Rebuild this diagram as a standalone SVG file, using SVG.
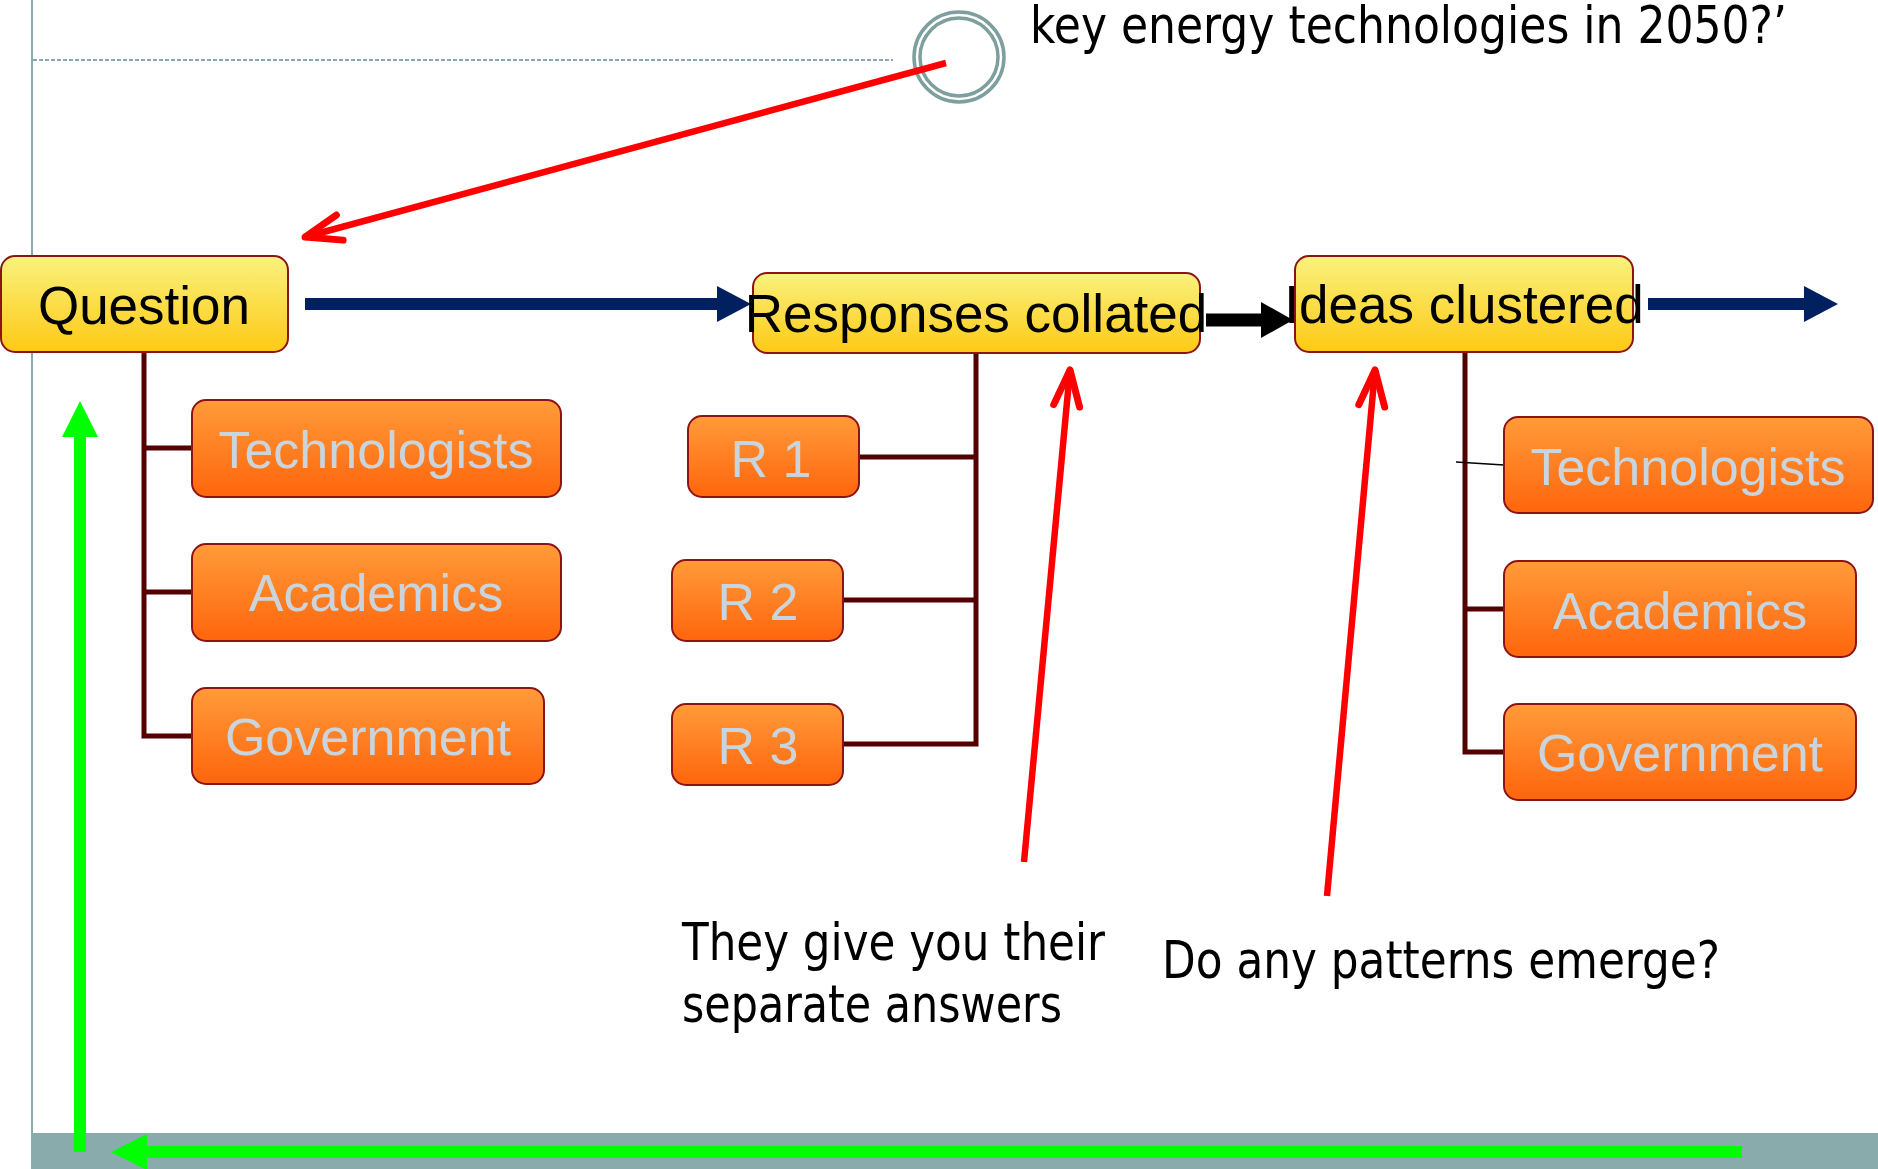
<svg xmlns="http://www.w3.org/2000/svg" width="1878" height="1169" viewBox="0 0 1878 1169">
<defs>
<linearGradient id="gY" x1="0" y1="0" x2="0" y2="1"><stop offset="0" stop-color="#f9f27e"/><stop offset="1" stop-color="#fec914"/></linearGradient>
<linearGradient id="gO" x1="0" y1="0" x2="0" y2="1"><stop offset="0" stop-color="#ff9b3a"/><stop offset="1" stop-color="#ff650c"/></linearGradient>
<marker id="navyHead" markerUnits="userSpaceOnUse" markerWidth="36" markerHeight="40" viewBox="0 -20 36 40" refX="0" refY="0" orient="auto"><path d="M0,-18 L34,0 L0,18 Z" fill="#00205f"/></marker>
<marker id="blackHead" markerUnits="userSpaceOnUse" markerWidth="36" markerHeight="40" viewBox="0 -20 36 40" refX="0" refY="0" orient="auto"><path d="M0,-18 L32,0 L0,18 Z" fill="#000"/></marker>
<marker id="greenHead" markerUnits="userSpaceOnUse" markerWidth="38" markerHeight="40" viewBox="0 -20 38 40" refX="0" refY="0" orient="auto"><path d="M0,-18 L36,0 L0,18 Z" fill="#00ff00"/></marker>
<marker id="redHead" markerUnits="userSpaceOnUse" markerWidth="50" markerHeight="40" viewBox="-44 -20 50 40" refX="0" refY="0" orient="auto"><path d="M-36,-13 L0,0 L-36,13" fill="none" stroke="#ff0000" stroke-width="7" stroke-linecap="round" stroke-linejoin="round"/></marker>
</defs>
<style>
.yb{fill:url(#gY);stroke:#8b1515;stroke-width:2}
.ob{fill:url(#gO);stroke:#8b1515;stroke-width:2}
.yt{font-family:"Liberation Sans",Arial,sans-serif;font-size:53px;fill:#000;text-anchor:middle}
.ot{font-family:"Liberation Sans",Arial,sans-serif;font-size:52px;fill:#c9d4dc;text-anchor:middle}
.nt{font-family:"Liberation Sans Narrow","DejaVu Sans Condensed","Liberation Sans",sans-serif;font-size:52px;fill:#000}
.tree{fill:none;stroke:#550000;stroke-width:5}
.red{stroke:#ff0000;stroke-width:6.5;fill:none;marker-end:url(#redHead)}
</style>
<rect width="1878" height="1169" fill="#ffffff"/>
<g id="frame">
<line x1="32" y1="0" x2="32" y2="1134" stroke="#8aabab" stroke-width="2"/>
<line x1="33" y1="60" x2="893" y2="60" stroke="#8aabab" stroke-width="2" stroke-dasharray="4,2"/>
<rect x="31" y="1133" width="1847" height="36" fill="#8aabab"/>
<circle cx="959" cy="57" r="45" fill="none" stroke="#7f9f9f" stroke-width="3.5"/>
<circle cx="959" cy="57" r="39" fill="none" stroke="#7f9f9f" stroke-width="3.5"/>
</g>
<text class="nt" x="1030" y="43" font-size="49" textLength="757" lengthAdjust="spacingAndGlyphs">key energy technologies in 2050?’</text>
<g id="connectors">
<path class="tree" d="M144,352 V736 H192 M144,448 H192 M144,592 H192"/>
<path class="tree" d="M976,353 V744 H843 M976,457 H859 M976,600 H843" stroke-width="4.5"/>
<path class="tree" d="M1465,352 V752 H1504 M1465,609 H1504"/>
<line x1="1456" y1="462" x2="1504" y2="465" stroke="#000" stroke-width="1.5"/>
<line x1="305" y1="304" x2="717" y2="304" stroke="#00205f" stroke-width="12" marker-end="url(#navyHead)"/>
<line x1="1648" y1="304" x2="1804" y2="304" stroke="#00205f" stroke-width="12" marker-end="url(#navyHead)"/>
<line x1="1206" y1="320" x2="1261" y2="320" stroke="#000" stroke-width="13" marker-end="url(#blackHead)"/>
<line x1="946" y1="63" x2="305" y2="237" class="red"/>
<line x1="1024" y1="862" x2="1070" y2="370" class="red"/>
<line x1="1327" y1="896" x2="1375" y2="370" class="red"/>
<line x1="80" y1="1152" x2="80" y2="437" stroke="#00ff00" stroke-width="12" marker-end="url(#greenHead)"/>
<line x1="1742" y1="1152" x2="147" y2="1152" stroke="#00ff00" stroke-width="12" marker-end="url(#greenHead)"/>
</g>
<g id="question"><rect class="yb" x="1" y="256" width="287" height="96" rx="14"/><text class="yt" x="144" y="324">Question</text></g>
<g id="responses"><rect class="yb" x="753" y="273" width="447" height="80" rx="14"/><text class="yt" x="976" y="332">Responses collated</text></g>
<g id="ideas"><rect class="yb" x="1295" y="256" width="338" height="96" rx="14"/><text class="yt" x="1464" y="323">Ideas clustered</text></g>
<g id="tech1"><rect class="ob" x="192" y="400" width="369" height="97" rx="14"/><text class="ot" x="376" y="468">Technologists</text></g>
<g id="acad1"><rect class="ob" x="192" y="544" width="369" height="97" rx="14"/><text class="ot" x="376" y="611">Academics</text></g>
<g id="gov1"><rect class="ob" x="192" y="688" width="352" height="96" rx="14"/><text class="ot" x="368" y="755">Government</text></g>
<g id="r1"><rect class="ob" x="688" y="416" width="171" height="81" rx="14"/><text class="ot" x="771" y="477">R 1</text></g>
<g id="r2"><rect class="ob" x="672" y="560" width="171" height="81" rx="14"/><text class="ot" x="758" y="620">R 2</text></g>
<g id="r3"><rect class="ob" x="672" y="704" width="171" height="81" rx="14"/><text class="ot" x="758" y="764">R 3</text></g>
<g id="tech2"><rect class="ob" x="1504" y="417" width="369" height="96" rx="14"/><text class="ot" x="1688" y="485">Technologists</text></g>
<g id="acad2"><rect class="ob" x="1504" y="561" width="352" height="96" rx="14"/><text class="ot" x="1680" y="629">Academics</text></g>
<g id="gov2"><rect class="ob" x="1504" y="704" width="352" height="96" rx="14"/><text class="ot" x="1680" y="771">Government</text></g>
<text class="nt" x="682" y="960" textLength="423" lengthAdjust="spacingAndGlyphs">They give you their</text>
<text class="nt" x="682" y="1022" textLength="380" lengthAdjust="spacingAndGlyphs">separate answers</text>
<text class="nt" x="1162" y="978" textLength="558" lengthAdjust="spacingAndGlyphs">Do any patterns emerge?</text>
</svg>
